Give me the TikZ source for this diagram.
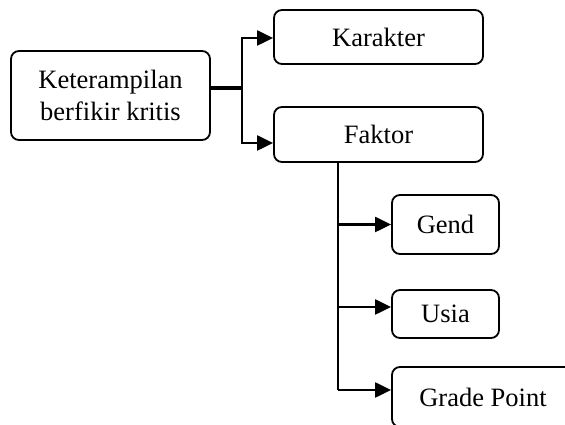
\documentclass[tikz,border=0pt]{standalone}
\usepackage{fontspec}
\setmainfont{Liberation Serif}
\usetikzlibrary{positioning,arrows.meta}

\tikzset{
  kotak/.style={draw=black, line width=1.8pt, rounded corners=8pt, inner sep=0pt, align=center,
    font=\fontsize{26.5}{32}\selectfont},
  panah/.style={line width=2.2pt, -{Triangle[length=16pt,width=15pt]}}
}

\begin{document}
\begin{tikzpicture}[x=1pt,y=1pt]
		\useasboundingbox (0,0) rectangle (565,425);
		
		\node[kotak, minimum width=199pt, minimum height=89pt] (ket) at (110.5, 329.5) {Keterampilan\\berfikir kritis};
		\node[kotak, minimum width=209pt, minimum height=54pt] (kar) at (378.5, 388) {Karakter};
		\node[kotak, minimum width=209pt, minimum height=55pt] (fak) at (378.5, 290.5) {Faktor};
		\node[kotak, minimum width=107pt, minimum height=59pt] (gen) at (445.5, 200.5) {Gend};
		\node[kotak, minimum width=107pt, minimum height=48pt] (usi) at (445.5, 111) {Usia};
		\node[kotak, minimum width=182pt, minimum height=60pt] (gra) at (483, 28) {Grade Point};
		
		\coordinate (j1) at (242, 337);
		\coordinate (t1) at (338, 263);
		\coordinate (t2) at (338, 35);
		
		% cabang utama
		\draw[line width=4.5pt] ([yshift=7.5pt]ket.east) -- (j1);
		\draw[panah] (j1) |- ([yshift=-1pt]kar.west);
		\draw[panah] (j1) |- ([yshift=-8.5pt]fak.west);
		
		% cabang faktor
		\draw[line width=2.2pt] (t1) -- (t2);
		\draw[panah] (t1 |- gen.west) -- (gen.west);
		\draw[panah] (t1 |- usi.west) ++(0,7) -- ([yshift=7pt]usi.west);
		\draw[panah] (t2) -- ([yshift=7pt]gra.west);
\end{tikzpicture}
\end{document}
